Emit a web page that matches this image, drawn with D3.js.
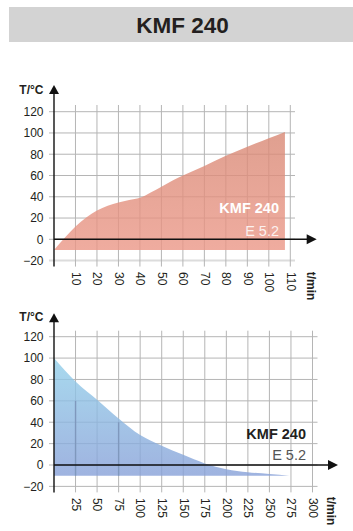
<!DOCTYPE html>
<html><head><meta charset="utf-8">
<script src="https://cdn.jsdelivr.net/npm/d3@7/dist/d3.min.js"></script>
<style>
html,body{margin:0;padding:0;background:#fff;}
svg{display:block;font-family:"Liberation Sans",Arial,Helvetica,sans-serif;}
</style></head>
<body>
<svg id="c" width="353" height="531"></svg>
<script>
// ---- data ----
const title = "KMF 240";
const modelLabel = "KMF 240";
const seriesLabel = "E 5.2";
const yLabel = "T/°C";
const xLabel = "t/min";
const yTicks = [-20, 0, 20, 40, 60, 80, 100, 120];
const heatXTicks = [10, 20, 30, 40, 50, 60, 70, 80, 90, 100, 110];
const coolXTicks = [25, 50, 75, 100, 125, 150, 175, 200, 225, 250, 275, 300];
const heatTime = [0, 5, 10, 15, 20, 25, 30, 35, 40, 45, 50, 55, 60, 70, 80, 90, 100, 107.5];
const heatTemp = [-10, 1.5, 12, 20.5, 27, 31.5, 34.5, 37, 39, 44, 49.5, 55, 60, 69, 78.5, 87, 95, 101];
const coolTime = [0, 25, 50, 75, 100, 125, 150, 175, 200, 225, 250, 273];
const coolTemp = [100, 78, 61, 43.5, 28, 18, 9.5, 1.5, -4, -6.8, -8.5, -10];
const coolMarkTime = [25, 75];
const coolMarkTemp = [60, 40];
const baseTemp = -10;

const svg = d3.select("#c");
const defs = svg.append("defs");
function grad(id, c1, c2) {
  const g = defs.append("linearGradient").attr("id", id).attr("x1", 0).attr("y1", 0).attr("x2", 0).attr("y2", 1);
  g.append("stop").attr("offset", "0%").attr("stop-color", c1);
  g.append("stop").attr("offset", "100%").attr("stop-color", c2);
}
grad("gHeat", "#d88874", "#eb9787");
grad("gCool", "#92d0ea", "#87a0d8");

// title band
svg.append("rect").attr("x", 9).attr("y", 7).attr("width", 344).attr("height", 35).attr("fill", "#d3d3d3");
svg.append("text").attr("x", 182.5).attr("y", 32.7).attr("text-anchor", "middle")
  .attr("font-size", 22.5).attr("font-weight", "bold").attr("fill", "#231f20").text(title);

function chart(o) {
  const g = svg.append("g");
  const x = d3.scaleLinear().domain(o.xDomain).range(o.xRange);
  const y = d3.scaleLinear().domain([0, 120]).range(o.yRange);
  const yMin = y(-20);
  // horizontal grid
  g.selectAll("line.h").data(yTicks).enter().append("line")
    .attr("x1", x(0) - 5).attr("x2", o.gridRight)
    .attr("y1", d => y(d)).attr("y2", d => y(d))
    .attr("stroke", d => (d === -20 && o.lightBottom) ? "#dcdcdc" : "#b5b5b5")
    .attr("stroke-width", d => (d === -20 && o.lightBottom) ? 2 : 1);
  // vertical grid
  g.selectAll("line.v").data(o.xTicks).enter().append("line")
    .attr("x1", d => x(d)).attr("x2", d => x(d))
    .attr("y1", o.gridTop).attr("y2", yMin + 6)
    .attr("stroke", "#b5b5b5").attr("stroke-width", 1);
  // area
  const pts = o.time.map((t, i) => [t, o.temp[i]]);
  const area = d3.area().x(d => x(d[0])).y0(y(baseTemp)).y1(d => y(d[1])).curve(d3.curveMonotoneX);
  g.append("path").datum(pts).attr("d", area).attr("fill", o.fill).attr("fill-opacity", 0.8);
  if (o.marks) {
    g.selectAll("line.m").data(o.marks[0]).enter().append("line")
      .attr("x1", d => x(d)).attr("x2", d => x(d))
      .attr("y1", (d, i) => y(o.marks[1][i])).attr("y2", y(baseTemp))
      .attr("stroke", "#7f98bd").attr("stroke-width", 1.4);
  }
  // y axis labels
  const ya = d3.axisLeft(y).tickValues(yTicks).tickSize(0).tickPadding(10.5);
  const yg = g.append("g").attr("transform", `translate(${x(0)},0)`).call(ya);
  yg.select(".domain").remove();
  yg.selectAll("text").attr("font-size", 12).attr("fill", "#231f20")
    .attr("font-family", "'Liberation Sans',Arial,sans-serif");
  // x axis labels
  const xa = d3.axisBottom(x).tickValues(o.xTicks).tickSize(0);
  const xg = g.append("g").attr("transform", `translate(0,${yMin})`).call(xa);
  xg.select(".domain").remove();
  xg.selectAll("text").attr("transform", "rotate(90)").attr("x", 11.5).attr("y", 0)
    .attr("dy", "0.35em").attr("text-anchor", "start").attr("font-size", 12).attr("fill", "#231f20")
    .attr("font-family", "'Liberation Sans',Arial,sans-serif");
  // axes lines
  g.append("line").attr("x1", x(0)).attr("x2", x(0)).attr("y1", o.yArrowTip + 8).attr("y2", yMin + 6)
    .attr("stroke", "#111").attr("stroke-width", 1.4);
  g.append("path").attr("d", `M${x(0)},${o.yArrowTip} L${x(0) - 5},${o.yArrowTip + 9} L${x(0) + 5},${o.yArrowTip + 9} Z`).attr("fill", "#111");
  g.append("line").attr("x1", x(0)).attr("x2", o.xArrowTip - 8).attr("y1", y(0)).attr("y2", y(0))
    .attr("stroke", "#111").attr("stroke-width", 1.4);
  g.append("path").attr("d", `M${o.xArrowTip},${y(0)} L${o.xArrowTip - 10},${y(0) - 5} L${o.xArrowTip - 10},${y(0) + 5} Z`).attr("fill", "#111");
  // axis titles
  g.append("text").attr("x", 43.5).attr("y", o.yLabelY).attr("text-anchor", "end")
    .attr("font-size", 12).attr("font-weight", "bold").attr("fill", "#231f20").text(yLabel);
  g.append("text").attr("transform", `translate(${o.xLabelX},${o.xLabelY}) rotate(90)`)
    .attr("dy", "0.35em").attr("text-anchor", "start")
    .attr("font-size", 12).attr("font-weight", "bold").attr("fill", "#231f20").text(xLabel);
  // series labels
  g.append("text").attr("x", o.labelX).attr("y", o.labelY1).attr("text-anchor", "end")
    .attr("font-size", 14.5).attr("font-weight", "bold").attr("fill", o.labelColor1).text(modelLabel);
  g.append("text").attr("x", o.labelX).attr("y", o.labelY2).attr("text-anchor", "end")
    .attr("font-size", 14.5).attr("fill", o.labelColor2).text(seriesLabel);
}

chart({
  xDomain: [0, 110], xRange: [54, 290.3], yRange: [239.3, 111.7],
  xTicks: heatXTicks, time: heatTime, temp: heatTemp, fill: "url(#gHeat)",
  gridTop: 105, gridRight: 295, lightBottom: true,
  yArrowTip: 85, xArrowTip: 316.7, yLabelY: 94.3, xLabelX: 311.5, xLabelY: 271.7,
  labelX: 279, labelY1: 213, labelY2: 235.7, labelColor1: "#ffffff", labelColor2: "rgba(255,255,255,0.85)"
});
chart({
  xDomain: [0, 300], xRange: [54, 312.5], yRange: [465, 336.7],
  xTicks: coolXTicks, time: coolTime, temp: coolTemp, fill: "url(#gCool)",
  marks: [coolMarkTime, coolMarkTemp],
  gridTop: 330.7, gridRight: 317.5, lightBottom: false,
  yArrowTip: 313.3, xArrowTip: 338, yLabelY: 320.7, xLabelX: 331, xLabelY: 496.7,
  labelX: 306, labelY1: 439.3, labelY2: 460, labelColor1: "#231f20", labelColor2: "#555555"
});
</script>
</body></html>
